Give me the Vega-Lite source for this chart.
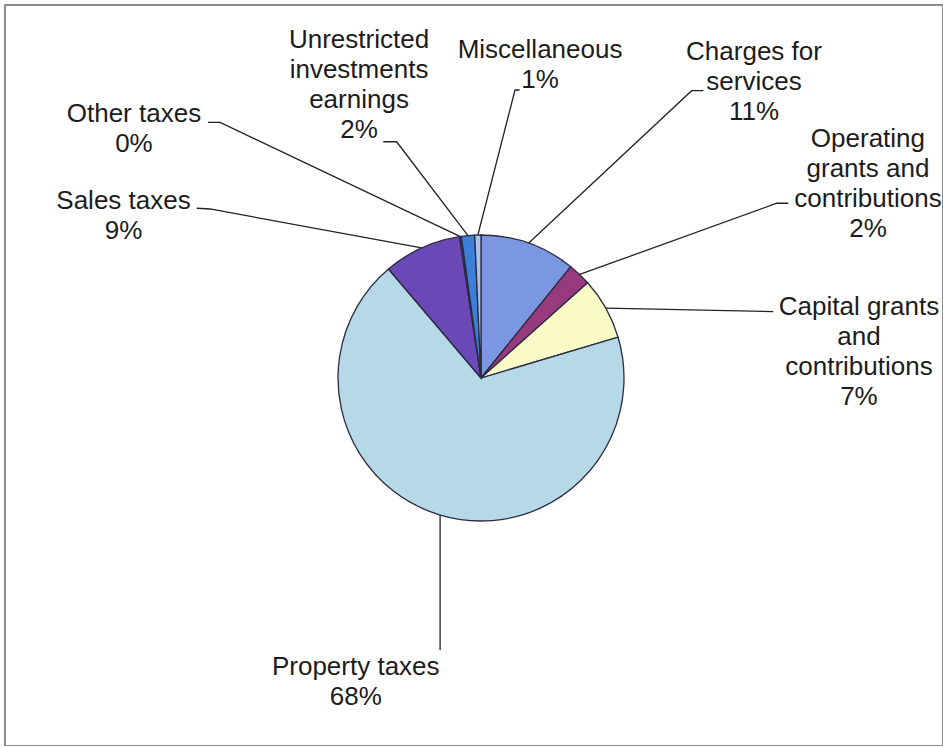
{
  "$schema": "https://vega.github.io/schema/vega-lite/v6.json",
  "width": 938,
  "height": 741,
  "autosize": {"type": "none"},
  "padding": {"left": 5, "top": 5, "right": 0, "bottom": 0},
  "background": "white",
  "config": {"view": {"stroke": "#8c8c8c", "strokeWidth": 2}},
  "datasets": {
    "slices": [
      {"source": "Charges for services", "share": 10.8, "rank": 1},
      {"source": "Operating grants and contributions", "share": 2.6, "rank": 2},
      {"source": "Capital grants and contributions", "share": 7.0, "rank": 3},
      {"source": "Property taxes", "share": 68.4, "rank": 4},
      {"source": "Sales taxes", "share": 8.8, "rank": 5},
      {"source": "Other taxes", "share": 0.2, "rank": 6},
      {"source": "Unrestricted investments earnings", "share": 1.5, "rank": 7},
      {"source": "Miscellaneous", "share": 0.7, "rank": 8}
    ],
    "leaders": [
      {"source": "Other taxes", "k": 1, "x": -14.4, "y": 98.9},
      {"source": "Other taxes", "k": 2, "x": -182.5, "y": 178.8},
      {"source": "Other taxes", "k": 3, "x": -190.9, "y": 178.8},
      {"source": "Sales taxes", "k": 1, "x": -41.5, "y": 91.0},
      {"source": "Sales taxes", "k": 2, "x": -189.5, "y": 118.2},
      {"source": "Sales taxes", "k": 3, "x": -198.8, "y": 118.7},
      {"source": "Unrestricted investments earnings", "k": 1, "x": -9.1, "y": 99.6},
      {"source": "Unrestricted investments earnings", "k": 2, "x": -59.0, "y": 165.2},
      {"source": "Unrestricted investments earnings", "k": 3, "x": -68.3, "y": 165.2},
      {"source": "Miscellaneous", "k": 1, "x": -2.2, "y": 100.0},
      {"source": "Miscellaneous", "k": 2, "x": 23.8, "y": 201.4},
      {"source": "Miscellaneous", "k": 3, "x": 27.0, "y": 201.4},
      {"source": "Charges for services", "k": 1, "x": 33.2, "y": 94.3},
      {"source": "Charges for services", "k": 2, "x": 147.3, "y": 200.9},
      {"source": "Charges for services", "k": 3, "x": 155.5, "y": 200.9},
      {"source": "Operating grants and contributions", "k": 1, "x": 69.0, "y": 72.4},
      {"source": "Operating grants and contributions", "k": 2, "x": 206.8, "y": 122.2},
      {"source": "Operating grants and contributions", "k": 3, "x": 214.9, "y": 122.2},
      {"source": "Capital grants and contributions", "k": 1, "x": 87.3, "y": 48.8},
      {"source": "Capital grants and contributions", "k": 2, "x": 204.4, "y": 46.4},
      {"source": "Property taxes", "k": 1, "x": -28.6, "y": -95.8},
      {"source": "Property taxes", "k": 2, "x": -28.6, "y": -190.2}
    ],
    "labels": [
      {"text": "Unrestricted\ninvestments\nearnings\n2%", "x": -85.3, "y": 230.8},
      {"text": "Miscellaneous\n1%", "x": 41.3, "y": 223.8},
      {"text": "Charges for\nservices\n11%", "x": 190.9, "y": 222.4},
      {"text": "Operating\ngrants and\ncontributions\n2%", "x": 270.6, "y": 161.7},
      {"text": "Capital grants\nand\ncontributions\n7%", "x": 264.3, "y": 44.1},
      {"text": "Property taxes\n68%", "x": -87.6, "y": -207.7},
      {"text": "Sales taxes\n9%", "x": -250.0, "y": 118.0},
      {"text": "Other taxes\n0%", "x": -242.7, "y": 179.2}
    ]
  },
  "layer": [
    {
      "data": {"name": "slices"},
      "mark": {"type": "arc", "outerRadius": 143, "stroke": "#2a2a40", "strokeWidth": 1.3},
      "encoding": {
        "theta": {"field": "share", "type": "quantitative", "stack": true},
        "order": {"field": "rank", "type": "quantitative"},
        "color": {
          "field": "source",
          "type": "nominal",
          "scale": {
            "domain": ["Charges for services", "Operating grants and contributions", "Capital grants and contributions", "Property taxes", "Sales taxes", "Other taxes", "Unrestricted investments earnings", "Miscellaneous"],
            "range": ["#7c97e2", "#983a7e", "#fafac6", "#b6d9e7", "#6a48b6", "#4a4a9a", "#3d7fd6", "#a9c0ea"]
          },
          "legend": null
        },
        "x": {"datum": 0, "type": "quantitative", "scale": {"domain": [-332.87, 323.08], "nice": false, "zero": false}, "axis": null},
        "y": {"datum": 0, "type": "quantitative", "scale": {"domain": [-257.34, 260.84], "nice": false, "zero": false}, "axis": null}
      }
    },
    {
      "data": {"name": "leaders"},
      "mark": {"type": "line", "color": "#222222", "strokeWidth": 1.3},
      "encoding": {
        "x": {"field": "x", "type": "quantitative", "scale": {"domain": [-332.87, 323.08], "nice": false, "zero": false}, "axis": null},
        "y": {"field": "y", "type": "quantitative", "scale": {"domain": [-257.34, 260.84], "nice": false, "zero": false}, "axis": null},
        "detail": {"field": "source", "type": "nominal"},
        "order": {"field": "k", "type": "quantitative"}
      }
    },
    {
      "data": {"name": "labels"},
      "mark": {"type": "text", "align": "center", "baseline": "alphabetic", "font": "Liberation Sans", "fontSize": 26, "lineHeight": 30, "lineBreak": "\n", "color": "#1c1c1c"},
      "encoding": {
        "x": {"field": "x", "type": "quantitative", "scale": {"domain": [-332.87, 323.08], "nice": false, "zero": false}, "axis": null},
        "y": {"field": "y", "type": "quantitative", "scale": {"domain": [-257.34, 260.84], "nice": false, "zero": false}, "axis": null},
        "text": {"field": "text", "type": "nominal"}
      }
    }
  ]
}
